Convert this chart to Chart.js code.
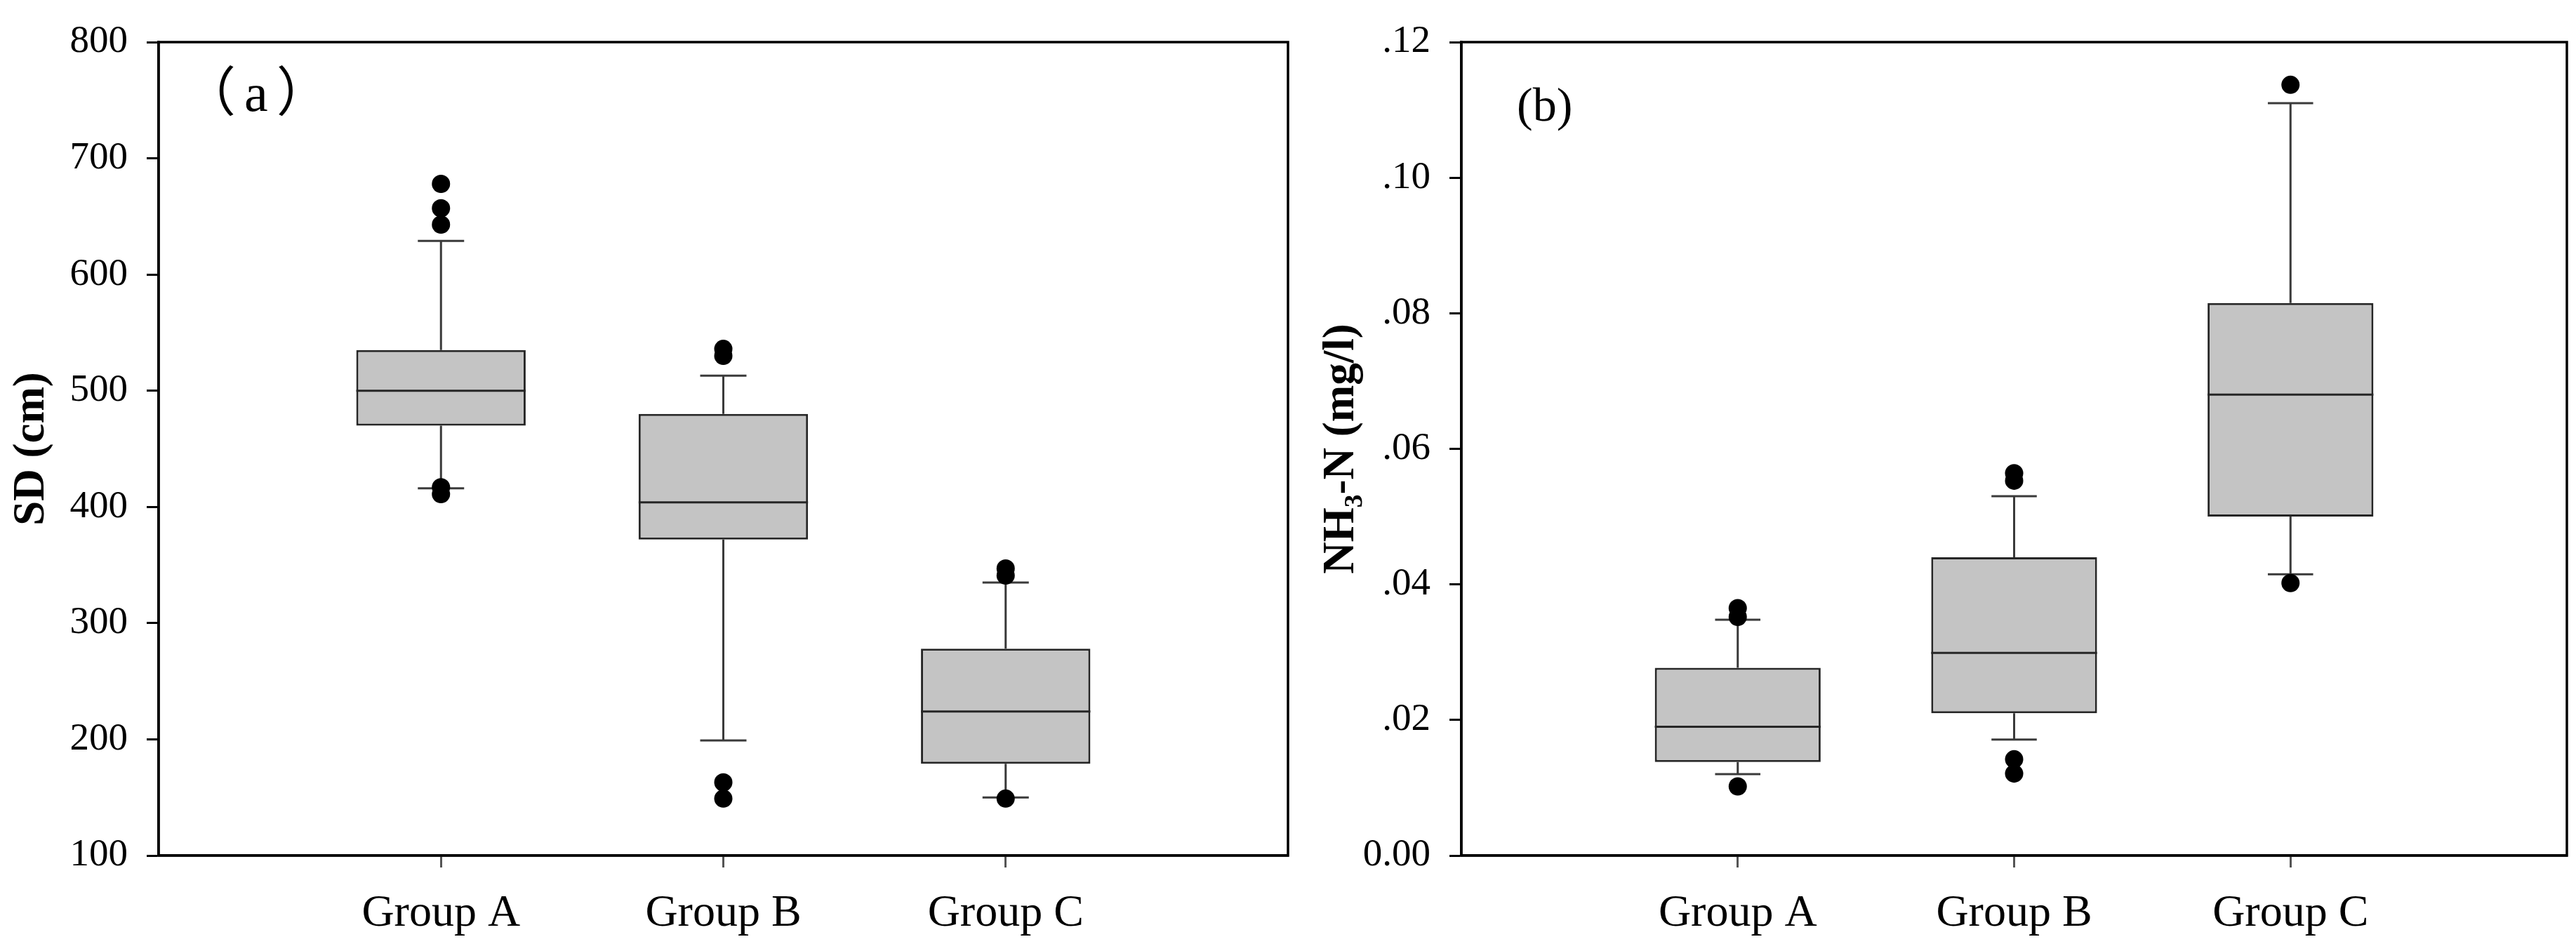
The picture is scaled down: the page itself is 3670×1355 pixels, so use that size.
<!DOCTYPE html>
<html lang="en">
<head>
<meta charset="UTF-8">
<title>SD and NH3-N box plots</title>
<script src="https://cdn.jsdelivr.net/npm/chart.js"></script>
<style>
  html, body { margin: 0; padding: 0; background: #fff; }
  .panel { position: absolute; top: 0; height: 1355px; }
  #panelA { left: 0; width: 1850px; }
  #panelB { left: 1850px; width: 1820px; }
</style>
</head>
<body>
<div class="panel" id="panelA"><canvas id="chartA"></canvas></div>
<div class="panel" id="panelB"><canvas id="chartB"></canvas></div>

<script>
const groups = ['Group A', 'Group B', 'Group C'];

// (a) SD (cm)
const sdLow      = [416, 199, 150];
const sdQ1       = [470, 372, 179];
const sdMedian   = [500, 404, 224];
const sdQ3       = [535, 480, 278];
const sdHigh     = [629, 513, 335];
const sdOutliers = [[678, 657, 643, 417, 411], [536, 530, 163, 149], [347, 341, 149]];
const sdTicks      = [100, 200, 300, 400, 500, 600, 700, 800];
const sdTickLabels = ['100', '200', '300', '400', '500', '600', '700', '800'];

// (b) NH3-N (mg/l)
const nhLow      = [0.0120, 0.0171, 0.0415];
const nhQ1       = [0.0138, 0.0210, 0.0500];
const nhMedian   = [0.0190, 0.0299, 0.0680];
const nhQ3       = [0.0277, 0.0440, 0.0815];
const nhHigh     = [0.0348, 0.0530, 0.1110];
const nhOutliers = [[0.0365, 0.0352, 0.0102], [0.0564, 0.0553, 0.0142, 0.0121], [0.1137, 0.0402]];
const nhTicks      = [0, 0.02, 0.04, 0.06, 0.08, 0.10, 0.12];
const nhTickLabels = ['0.00', '.02', '.04', '.06', '.08', '.10', '.12'];

const BOX_HALF = 0.3;   // box is 0.6 of the category spacing
const CAP_HALF = 0.082; // whisker cap half width

Chart.defaults.font.family = '"Liberation Serif", "Times New Roman", serif';
Chart.defaults.color = '#000';

function boxData(low, q1, med, q3, high, outliers) {
  const boxes = [], medians = [], whiskers = [], dots = [];
  groups.forEach((g, i) => {
    const c = i + 1;
    boxes.push({ x: c, y: [q1[i], q3[i]] });
    medians.push({ x: c - BOX_HALF, y: med[i] }, { x: c + BOX_HALF, y: med[i] }, { x: c, y: null });
    whiskers.push(
      { x: c, y: q3[i] }, { x: c, y: high[i] }, { x: c, y: null },
      { x: c - CAP_HALF, y: high[i] }, { x: c + CAP_HALF, y: high[i] }, { x: c, y: null },
      { x: c, y: q1[i] }, { x: c, y: low[i] }, { x: c, y: null },
      { x: c - CAP_HALF, y: low[i] }, { x: c + CAP_HALF, y: low[i] }, { x: c, y: null }
    );
    outliers[i].forEach(v => dots.push({ x: c, y: v }));
  });
  return [
    { type: 'bar', data: boxes, backgroundColor: '#c4c4c4', borderColor: '#262626',
      borderWidth: 3, borderSkipped: false, categoryPercentage: 0.6, barPercentage: 1,
      grouped: false, order: 3 },
    { type: 'line', data: whiskers, borderColor: '#3a3a3a', borderWidth: 3,
      pointRadius: 0, spanGaps: false, tension: 0, order: 2 },
    { type: 'line', data: medians, borderColor: '#262626', borderWidth: 3,
      pointRadius: 0, spanGaps: false, tension: 0, order: 1 },
    { type: 'line', data: dots, showLine: false, pointRadius: 13, pointHoverRadius: 13,
      pointBackgroundColor: '#000', pointBorderWidth: 0, order: 0 }
  ];
}

const frame = {
  id: 'frame',
  beforeDatasetsDraw(chart) {
    const { ctx, chartArea: a } = chart;
    ctx.save();
    ctx.strokeStyle = '#000';
    ctx.lineWidth = 3.5;
    ctx.strokeRect(a.left, a.top, a.right - a.left, a.bottom - a.top);
    ctx.restore();
  }
};

function panelLabel(text, dx, dy, font, spacing) {
  return {
    id: 'panelLabel',
    afterDraw(chart) {
      const { ctx, chartArea: a } = chart;
      ctx.save();
      ctx.font = font;
      ctx.letterSpacing = spacing;
      ctx.fillStyle = '#000';
      ctx.textAlign = 'left';
      ctx.textBaseline = 'middle';
      ctx.fillText(text, a.left + dx, a.top + dy);
      ctx.restore();
    }
  };
}

function makeChart(id, datasets, yMin, yMax, ticks, tickLabels, title, titlePad, padRight, label) {
  return new Chart(document.getElementById(id), {
    type: 'bar',
    data: { datasets },
    options: {
      responsive: true,
      maintainAspectRatio: false,
      animation: false,
      events: [],
      layout: { padding: { top: 44, right: padRight, left: 0, bottom: 0 } },
      plugins: { legend: { display: false }, tooltip: { enabled: false } },
      scales: {
        x: {
          type: 'linear', min: 0, max: 4, offset: false,
          afterBuildTicks: s => { s.ticks = groups.map((g, i) => ({ value: i + 1 })); },
          afterFit: s => { s.height = 136; },
          ticks: { callback: (v, i) => groups[i], font: { size: 64 }, padding: 28, maxRotation: 0 },
          grid: { offset: false, drawOnChartArea: false, drawTicks: true, tickLength: 17,
                  tickColor: '#555', tickWidth: 3 },
          border: { display: true, color: '#000', width: 3.5 }
        },
        y: {
          type: 'linear', min: yMin, max: yMax,
          afterBuildTicks: s => { s.ticks = ticks.map(v => ({ value: v })); },
          afterFit: s => { s.width = id === 'chartA' ? 226 : 232; },
          ticks: { callback: (v, i) => tickLabels[i], font: { size: 55 }, padding: 27 },
          grid: { drawOnChartArea: false, drawTicks: true, tickLength: 17, tickColor: '#000', tickWidth: 3 },
          border: { display: true, color: '#000', width: 3.5 },
          title: { display: true, text: title, font: { size: 63, weight: 'bold' },
                   padding: { top: titlePad, bottom: 0 } }
        }
      }
    },
    plugins: [frame, label]
  });
}

makeChart('chartA', boxData(sdLow, sdQ1, sdMedian, sdQ3, sdHigh, sdOutliers),
  100, 800, sdTicks, sdTickLabels, 'SD (cm)', 8, 15,
  panelLabel('（a）', 34, 78, '76px "Liberation Serif", "Noto Sans CJK SC", serif', '12px'));

makeChart('chartB', boxData(nhLow, nhQ1, nhMedian, nhQ3, nhHigh, nhOutliers),
  0, 0.12, nhTicks, nhTickLabels, 'NH₃-N (mg/l)', 24, 11,
  panelLabel('(b)', 79, 94, '68px "Liberation Serif", serif', '0px'));
</script>
</body>
</html>
